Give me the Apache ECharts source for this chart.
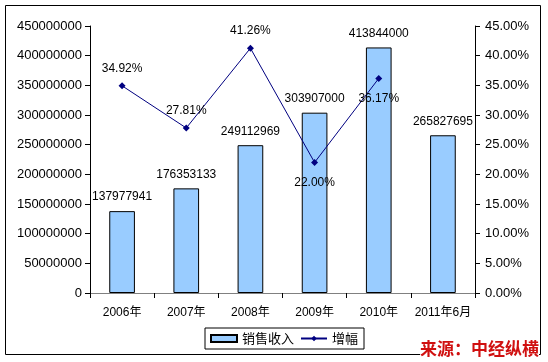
<!DOCTYPE html>
<html><head><meta charset="utf-8">
<script src="https://cdn.jsdelivr.net/npm/echarts@6/dist/echarts.min.js"></script>
<style>html,body{margin:0;padding:0;background:#fff}#c{width:548px;height:362px}</style>
</head><body><div id="c"></div>
<script>
const categories = ['2006年','2007年','2008年','2009年','2010年','2011年6月'];
const sales = [137977941, 176353133, 249112969, 303907000, 413844000, 265827695];
const growth = [34.92, 27.81, 41.26, 22.00, 36.17, null];
const leftTicks = {min: 0, max: 450000000, interval: 50000000};
const rightTicks = {min: 0, max: 45, interval: 5};
const growthLabelPos = ['top','top','top','bottom','bottom'];

const FONT = '"Liberation Sans", Arial, "Noto Sans CJK SC", sans-serif';
const chart = echarts.init(document.getElementById('c'), null, {renderer:'canvas'});
const growthData = growth.map((v,i)=> v==null ? null : ({
  value: v,
  label: {position: growthLabelPos[i], distance: growthLabelPos[i]==='top'?8:11}
}));
chart.setOption({
  animation:false,
  backgroundColor:'#fff',
  textStyle:{fontFamily:FONT},
  graphic:[
    {type:'rect', shape:{x:5.5,y:5.5,width:535,height:349}, style:{fill:'none',stroke:'#000',lineWidth:1}, z:-1},
    {type:'text', right:9, bottom:5, style:{text:'来源：中经纵横', fill:'#d01010', font:'bold 17px "Noto Sans CJK SC", sans-serif', backgroundColor:'#fff'}, z:100}
  ],
  grid:{left:90, right:73, top:26, bottom:69},
  legend:{
    left:205, top:328, padding:[4,6,4,5], itemGap:6,
    borderColor:'#000', borderWidth:1, itemWidth:26, itemHeight:7,
    textStyle:{fontSize:13, color:'#000', fontFamily:'"Noto Sans CJK SC", sans-serif'},
    data:[{name:'销售收入', icon:'rect'}, {name:'增幅'}]
  },
  xAxis:[{
    type:'category', data:categories,
    axisLine:{lineStyle:{color:'#000',width:1}},
    axisTick:{show:true, length:5, lineStyle:{color:'#000'}},
    axisLabel:{color:'#000', fontSize:12, margin:14, interval:0, fontFamily:FONT}
  },{
    type:'category', data:categories, position:'top',
    axisLine:{lineStyle:{color:'#808080'}}, axisTick:{show:false}, axisLabel:{show:false}
  }],
  yAxis:[{
    type:'value', min:leftTicks.min, max:leftTicks.max, interval:leftTicks.interval,
    axisLine:{show:true, lineStyle:{color:'#000'}},
    axisTick:{show:true, length:5, lineStyle:{color:'#000'}},
    axisLabel:{color:'#000', fontSize:13, margin:8, fontFamily:FONT, formatter:v=>String(v)},
    splitLine:{show:false}
  },{
    type:'value', min:rightTicks.min, max:rightTicks.max, interval:rightTicks.interval,
    axisLine:{show:true, lineStyle:{color:'#000'}},
    axisTick:{show:true, length:5, lineStyle:{color:'#000'}},
    axisLabel:{color:'#000', fontSize:13, margin:10, fontFamily:FONT, formatter:v=>v.toFixed(2)+'%'},
    splitLine:{show:false}
  }],
  series:[{
    name:'销售收入', type:'bar', data:sales, barWidth:'40%',
    itemStyle:{color:'#99ccff', borderColor:'#000', borderWidth:1},
    label:{show:true, position:'top', distance:8, color:'#000', fontSize:12, fontFamily:FONT}
  },{
    name:'增幅', type:'line', yAxisIndex:1, data:growthData,
    symbol:'diamond', symbolSize:7,
    itemStyle:{color:'#000080'}, lineStyle:{color:'#000080', width:1},
    label:{show:true, color:'#000', fontSize:12, fontFamily:FONT, formatter:p=>p.value.toFixed(2)+'%'}
  }]
});
</script></body></html>
